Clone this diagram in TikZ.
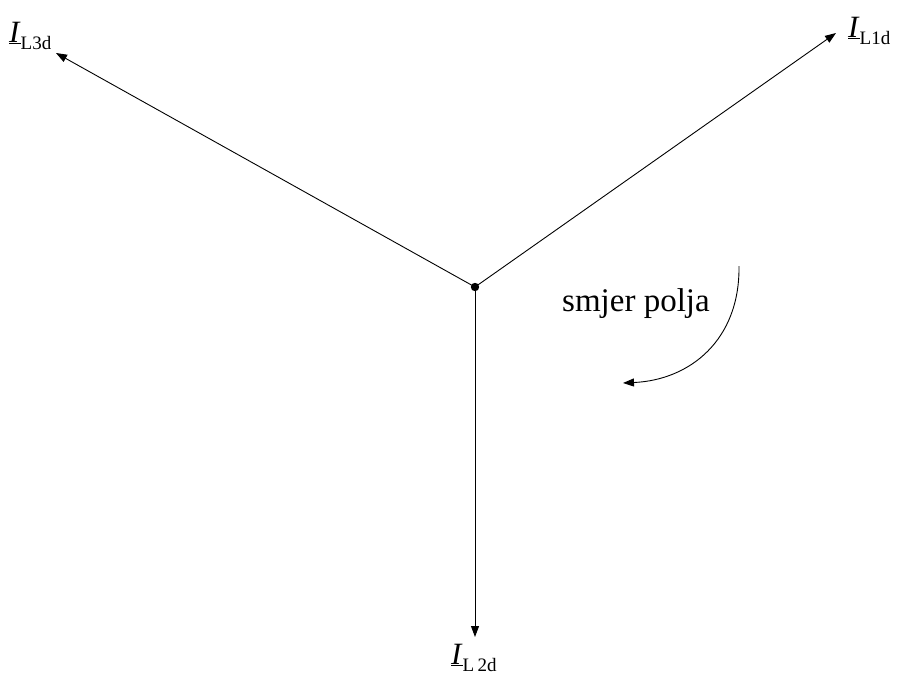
\documentclass[tikz,border=0pt]{standalone}
\usepackage{fontspec}
\setmainfont{Liberation Serif}
\usetikzlibrary{arrows.meta}
\begin{document}
\begin{tikzpicture}[x=1pt,y=-1pt,
  vec/.style={draw, line width=0.9pt, -{Triangle[length=11pt,width=8pt]}},
  lbl/.style={font=\fontsize{31}{34}\selectfont, inner sep=0pt, anchor=base west},
  txt/.style={font=\fontsize{33}{36}\selectfont, inner sep=0pt, anchor=base}]
\useasboundingbox (0,0) rectangle (898,678);
\newcommand\sublbl[1]{{\fontsize{19}{19}\selectfont\raisebox{-7pt}{#1}}}
\coordinate (O) at (475,287);
\coordinate (A1) at (836,33);
\coordinate (A3) at (56,53);
\coordinate (A2) at (475,637);
\draw[vec] (O) -- (A1);
\draw[vec] (O) -- (A3);
\draw[vec] (O) -- (A2);
\fill (O) circle (4.2);
\node[lbl] (L1) at (848,37) {\underline{\textit{I}}\sublbl{L1d}};
\node[lbl] (L3) at (9,42) {\underline{\textit{I}}\sublbl{L3d}};
\node[lbl] (L2) at (451,664) {\underline{\textit{I}}\sublbl{L\,2d}};
\node[txt] (T) at (636,311) {smjer polja};
\coordinate (C1) at (739,266);
\coordinate (C2) at (623,383);
\draw[line width=0.9pt, -{Triangle[length=11pt,width=8pt]}] (C1) .. controls (740,340) and (690,380) .. (C2);
\end{tikzpicture}
\end{document}
